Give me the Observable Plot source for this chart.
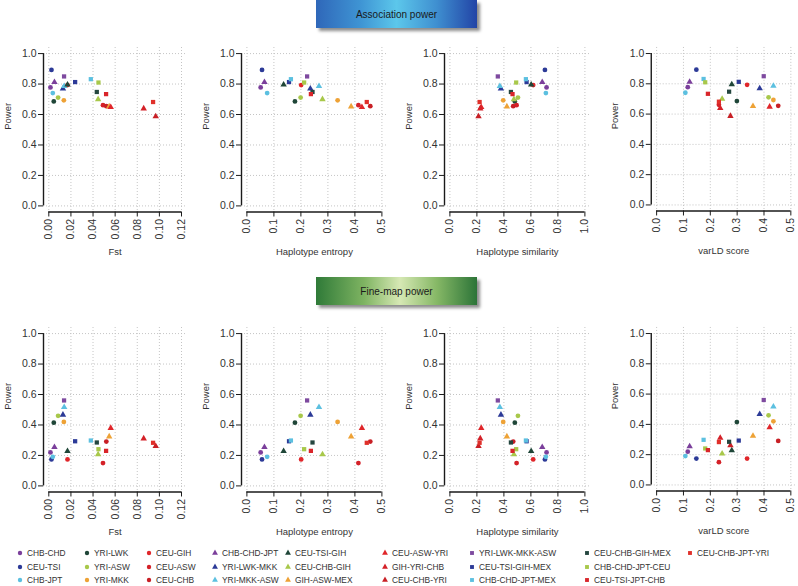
<!DOCTYPE html>
<html>
<head>
<meta charset="utf-8">
<script src="https://cdn.jsdelivr.net/npm/d3@7"></script>
<script src="https://cdn.jsdelivr.net/npm/@observablehq/plot@0.6"></script>
<style>
html,body{margin:0;padding:0;background:#fff;}
#chart{position:relative;width:798px;height:586px;overflow:hidden;font-family:"Liberation Sans",Arial,Helvetica,sans-serif;}
.banner{position:absolute;left:316px;width:161px;height:28px;display:flex;align-items:center;justify-content:center;font-size:10px;color:#1a1a1a;box-shadow:3px 3px 3px rgba(0,0,0,0.45);}
.panel{position:absolute;}
.leg{position:absolute;display:flex;align-items:center;height:10px;font-size:8.4px;color:#333;white-space:nowrap;line-height:1;}
.leg svg{display:block;margin-right:3px;}
</style>
</head>
<body>
<div id="chart"></div>
<script>
// ---------- data ----------
const populations = [
  "CHB-CHD","CEU-TSI","CHB-JPT","YRI-LWK","YRI-ASW","YRI-MKK","CEU-GIH","CEU-ASW","CEU-CHB",
  "CHB-CHD-JPT","YRI-LWK-MKK","YRI-MKK-ASW","CEU-TSI-GIH","CEU-CHB-GIH","GIH-ASW-MEX","CEU-ASW-YRI","GIH-YRI-CHB","CEU-CHB-YRI",
  "YRI-LWK-MKK-ASW","CEU-TSI-GIH-MEX","CHB-CHD-JPT-MEX","CEU-CHB-GIH-MEX","CHB-CHD-JPT-CEU","CEU-TSI-JPT-CHB","CEU-CHB-JPT-YRI"
];
const fst = [0.0015,0.0024,0.0036,0.0045,0.0084,0.0136,0.0169,0.049,0.052,
  0.0051,0.0128,0.0139,0.0169,0.0446,0.0546,0.056,0.0858,0.0967,
  0.0138,0.0238,0.038,0.0434,0.0449,0.0518,0.0943];
const entropy = [0.051,0.056,0.075,0.178,0.199,0.336,0.201,0.413,0.457,
  0.065,0.235,0.267,0.136,0.280,0.386,0.426,null,null,
  0.223,0.156,0.163,0.243,0.212,0.237,0.444];
const similarity = [0.716,0.704,0.711,0.481,0.504,0.395,0.617,0.494,0.469,
  0.684,0.378,0.370,0.602,0.474,0.422,0.232,0.225,0.212,
  0.355,0.568,0.563,0.452,0.491,0.464,0.220];
const varld = [0.116,0.148,0.107,0.299,0.417,0.435,0.337,0.232,0.453,
  0.123,0.384,0.435,0.280,0.244,0.359,0.421,0.237,0.275,
  0.399,0.306,0.175,0.270,0.181,0.191,0.232];
const assocPower = [0.778,0.893,0.741,0.686,0.711,0.693,0.793,0.661,0.655,
  0.812,0.770,0.786,0.796,0.700,0.652,0.648,0.639,0.587,
  0.850,0.813,0.832,0.748,0.810,0.734,0.682];
const finePower = [0.220,0.174,0.191,0.415,0.460,0.420,0.174,0.150,0.291,
  0.254,0.467,0.517,0.228,0.207,0.324,0.380,0.311,0.261,
  0.561,0.293,0.298,0.285,0.241,0.230,0.283];

const fstTicks = [0,0.02,0.04,0.06,0.08,0.10,0.12];
const entropyTicks = [0,0.1,0.2,0.3,0.4,0.5];
const similarityTicks = [0,0.2,0.4,0.6,0.8,1.0];
const varldTicks = [0,0.1,0.2,0.3,0.4,0.5];
const powerTicks = [0,0.2,0.4,0.6,0.8,1.0];
const xTitles = ["Fst","Haplotype entropy","Haplotype similarity","varLD score"];
const rowTitles = ["Association power","Fine-map power"];

// ---------- styles ----------
const colors = [
  "#7b3f9b","#2c3a97","#5cc0e0","#1f4638","#a8c84a","#eea236","#e0262a","#d42128","#c81f25",
  "#7b3f9b","#2c3a97","#5cc0e0","#1f4638","#a8c84a","#eea236","#e0262a","#d42128","#c81f25",
  "#7e4a9f","#2c3a97","#5cc0e0","#24463f","#a8c84a","#d9252a","#e0302a"
];

const rows = populations.map((name, i) => ({
  name, members: name.split("-").length,
  fst: fst[i], entropy: entropy[i], similarity: similarity[i], varld: varld[i],
  assoc: assocPower[i], fine: finePower[i]
}));

const M = {left: 42, right: 2, top: 6, bottom: 50};
const frameH = 164.5;
const frameTops = [46.5, 327];
const frameLefts = [43.0, 241.3, 443.9, 651.3];
const spans = [132.7, 135, 135, 135];
const cols = [
  {key: "fst", ticks: fstTicks, fmt: d => d.toFixed(2)},
  {key: "entropy", ticks: entropyTicks, fmt: d => d.toFixed(1)},
  {key: "similarity", ticks: similarityTicks, fmt: d => d.toFixed(1)},
  {key: "varld", ticks: varldTicks, fmt: d => d.toFixed(1)}
];
const yKeys = ["assoc", "fine"];
const symbols = [d3.symbolCircle, d3.symbolTriangle, d3.symbolSquare];

const chart = document.getElementById("chart");

function panel(ci, ri) {
  const c = cols[ci];
  const lo = c.ticks[0], hi = c.ticks[c.ticks.length - 1], ext = (hi - lo) * 0.04;
  const frameW = spans[ci] * 1.08;
  const grid = {stroke: "#c4c4c4", strokeOpacity: 1, strokeDasharray: "1,2", strokeWidth: 1};
  const p = Plot.plot({
    width: M.left + frameW + M.right,
    height: M.top + frameH + M.bottom,
    marginLeft: M.left, marginRight: M.right, marginTop: M.top, marginBottom: M.bottom,
    x: {domain: [lo - ext, hi + ext]},
    y: {domain: [-0.04, 1.04]},
    symbol: {domain: [2, 3, 4], range: symbols},
    color: {domain: populations, range: colors},
    style: {fontFamily: "'Liberation Sans', Arial, Helvetica, sans-serif", fontSize: "10.5px", color: "#333", background: "transparent", overflow: "visible"},
    marks: [
      Plot.gridX(c.ticks, grid),
      Plot.gridY(powerTicks, grid),
      Plot.ruleX([lo - ext], {y1: 0, y2: 1, stroke: "#1a1a1a", strokeWidth: 1.4}),
      Plot.ruleY([-0.04], {x1: lo, x2: hi, stroke: "#1a1a1a", strokeWidth: 1.4}),
      Plot.axisY(powerTicks, {tickSize: 5, tickPadding: 2, tickFormat: d => d.toFixed(1), label: null, stroke: "#1a1a1a"}),
      Plot.axisX(c.ticks, {tickSize: 5, tickPadding: 2, tickRotate: -90, tickFormat: c.fmt, label: null, stroke: "#1a1a1a"}),
      Plot.text([xTitles[ci]], {text: d => d, frameAnchor: "bottom", dy: 40, fontSize: 9.5, lineAnchor: "middle", fill: "#333"}),
      Plot.text(["Power"], {text: d => d, frameAnchor: "left", dx: -36, rotate: -90, fontSize: 9.5, fill: "#333"}),
      Plot.dot(rows, {x: c.key, y: yKeys[ri], fill: "name", symbol: "members", r: 2.4})
    ]
  });
  const div = document.createElement("div");
  div.className = "panel";
  div.style.left = (frameLefts[ci] - M.left) + "px";
  div.style.top = (frameTops[ri] - M.top) + "px";
  div.appendChild(p);
  chart.appendChild(div);
}

for (let ri = 0; ri < 2; ri++) for (let ci = 0; ci < 4; ci++) panel(ci, ri);

// banners
const bannerTops = [0, 277];
const bannerBg = [
  "linear-gradient(to right,#2f67b9 0%,#3f95d4 28%,#5cc7eb 50%,#3f8fd0 75%,#2244a6 100%)",
  "linear-gradient(to right,#2f7a38 0%,#7fb462 30%,#d6e8b4 52%,#86b866 75%,#2c7438 100%)"
];
rowTitles.forEach((t, i) => {
  const b = document.createElement("div");
  b.className = "banner";
  b.style.top = bannerTops[i] + "px";
  b.style.background = bannerBg[i];
  b.textContent = t;
  chart.appendChild(b);
});

// legend
const legendX = [20, 87, 149, 215, 288, 385, 472, 587, 690];
const legendY = [553, 567, 580];
populations.forEach((name, i) => {
  const col = Math.floor(i / 3), r = i % 3;
  const div = document.createElement("div");
  div.className = "leg";
  div.style.left = (legendX[col] - 4) + "px";
  div.style.top = (legendY[r] - 5) + "px";
  const svg = d3.create("svg").attr("width", 8).attr("height", 8);
  svg.append("path")
    .attr("transform", "translate(4,4)")
    .attr("d", d3.symbol(symbols[name.split("-").length - 2], 15)())
    .attr("fill", colors[i]);
  div.appendChild(svg.node());
  const span = document.createElement("span");
  span.textContent = name;
  div.appendChild(span);
  chart.appendChild(div);
});
</script>
</body>
</html>
